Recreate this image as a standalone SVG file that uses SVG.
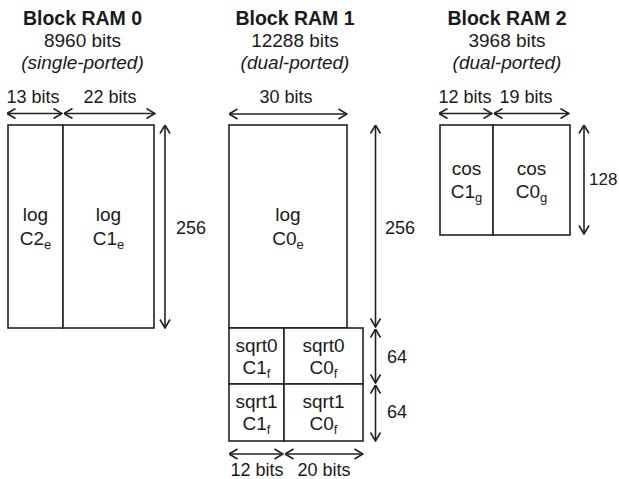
<svg xmlns="http://www.w3.org/2000/svg" width="619" height="479" viewBox="0 0 619 479">
<style>
text{font-family:"Liberation Sans",Arial,sans-serif;fill:#1a1a1a}
.t{font-size:19.5px;font-weight:bold;text-anchor:middle}
.s{font-size:19px;text-anchor:middle}
.i{font-size:19px;font-style:italic;text-anchor:middle}
.c{font-size:19px;text-anchor:middle}
.d{font-size:18px;text-anchor:middle}
.n{font-size:18px}
.sub{font-size:13px}
.box{fill:#fff;stroke:#222;stroke-width:1.6}
.ln{fill:none;stroke:#222;stroke-width:1.6}
.ar{fill:none;stroke:#222;stroke-width:1.6;marker-start:url(#ah);marker-end:url(#ah)}
</style>
<defs>
<marker id="ah" viewBox="0 0 10 12" refX="9.5" refY="6" markerWidth="10" markerHeight="12" markerUnits="userSpaceOnUse" orient="auto-start-reverse">
<path d="M1,1 L9.5,6 L1,11" fill="none" stroke="#222" stroke-width="1.6"/>
</marker>
</defs>
<rect width="619" height="479" fill="#fff"/>

<g id="ram0">
<text class="t" x="82.5" y="25">Block RAM 0</text>
<text class="s" x="82.5" y="47">8960 bits</text>
<text class="i" x="82.5" y="69">(single-ported)</text>
<g id="ram0-c2e">
<rect class="box" x="8" y="125" width="55" height="203"/>
<text class="c" x="35.5" y="221">log</text>
<text class="c" x="35.5" y="245">C2<tspan class="sub" dy="4">e</tspan></text>
</g>
<g id="ram0-c1e">
<rect class="box" x="63" y="125" width="91" height="203"/>
<text class="c" x="108.5" y="221">log</text>
<text class="c" x="108.5" y="245">C1<tspan class="sub" dy="4">e</tspan></text>
</g>
</g>

<g id="ram1">
<text class="t" x="295" y="25">Block RAM 1</text>
<text class="s" x="295" y="47">12288 bits</text>
<text class="i" x="295" y="69">(dual-ported)</text>
<g id="ram1-c0e">
<rect class="box" x="229" y="125" width="118" height="203"/>
<text class="c" x="288" y="221">log</text>
<text class="c" x="288" y="245">C0<tspan class="sub" dy="4">e</tspan></text>
</g>
<g id="ram1-sqrt0-c1f">
<rect class="box" x="229" y="328" width="55" height="56"/>
<text class="c" x="256.5" y="352">sqrt0</text>
<text class="c" x="256.5" y="374">C1<tspan class="sub" dy="4">f</tspan></text>
</g>
<g id="ram1-sqrt0-c0f">
<rect class="box" x="284" y="328" width="79" height="56"/>
<text class="c" x="323.5" y="352">sqrt0</text>
<text class="c" x="323.5" y="374">C0<tspan class="sub" dy="4">f</tspan></text>
</g>
<g id="ram1-sqrt1-c1f">
<rect class="box" x="229" y="384" width="55" height="57"/>
<text class="c" x="256.5" y="408">sqrt1</text>
<text class="c" x="256.5" y="430">C1<tspan class="sub" dy="4">f</tspan></text>
</g>
<g id="ram1-sqrt1-c0f">
<rect class="box" x="284" y="384" width="79" height="57"/>
<text class="c" x="323.5" y="408">sqrt1</text>
<text class="c" x="323.5" y="430">C0<tspan class="sub" dy="4">f</tspan></text>
</g>
</g>

<g id="ram2">
<text class="t" x="507" y="25">Block RAM 2</text>
<text class="s" x="507" y="47">3968 bits</text>
<text class="i" x="507" y="69">(dual-ported)</text>
<g id="ram2-c1g">
<rect class="box" x="440" y="125" width="53" height="110"/>
<text class="c" x="466.5" y="175">cos</text>
<text class="c" x="466.5" y="198">C1<tspan class="sub" dy="4">g</tspan></text>
</g>
<g id="ram2-c0g">
<rect class="box" x="493" y="125" width="77" height="110"/>
<text class="c" x="531.5" y="175">cos</text>
<text class="c" x="531.5" y="198">C0<tspan class="sub" dy="4">g</tspan></text>
</g>
</g>

<g id="connectors">
<line class="ar" x1="7" y1="113.5" x2="62" y2="113.5"/>
<line class="ar" x1="64" y1="113.5" x2="155" y2="113.5"/>
<line class="ar" x1="165" y1="125" x2="165" y2="328"/>
<line class="ar" x1="229" y1="114" x2="347" y2="114"/>
<line class="ar" x1="375.5" y1="125" x2="375.5" y2="327"/>
<line class="ar" x1="375.5" y1="329" x2="375.5" y2="383"/>
<line class="ar" x1="375.5" y1="385" x2="375.5" y2="441"/>
<line class="ar" x1="229" y1="454" x2="283" y2="454"/>
<line class="ar" x1="285" y1="454" x2="363" y2="454"/>
<line class="ar" x1="439" y1="113.5" x2="492" y2="113.5"/>
<line class="ar" x1="494" y1="113.5" x2="569" y2="113.5"/>
<line class="ar" x1="584" y1="125" x2="584" y2="234"/>
</g>

<g id="labels">
<text class="d" x="33" y="103">13 bits</text>
<text class="d" x="110" y="103">22 bits</text>
<text class="n" x="176" y="234">256</text>
<text class="d" x="286" y="103">30 bits</text>
<text class="n" x="385" y="234">256</text>
<text class="n" x="387" y="363">64</text>
<text class="n" x="387" y="418">64</text>
<text class="d" x="257" y="476">12 bits</text>
<text class="d" x="324" y="476">20 bits</text>
<text class="d" x="465" y="103">12 bits</text>
<text class="d" x="526" y="103">19 bits</text>
<text class="n" x="589" y="185" style="font-size:17px">128</text>
</g>
</svg>
